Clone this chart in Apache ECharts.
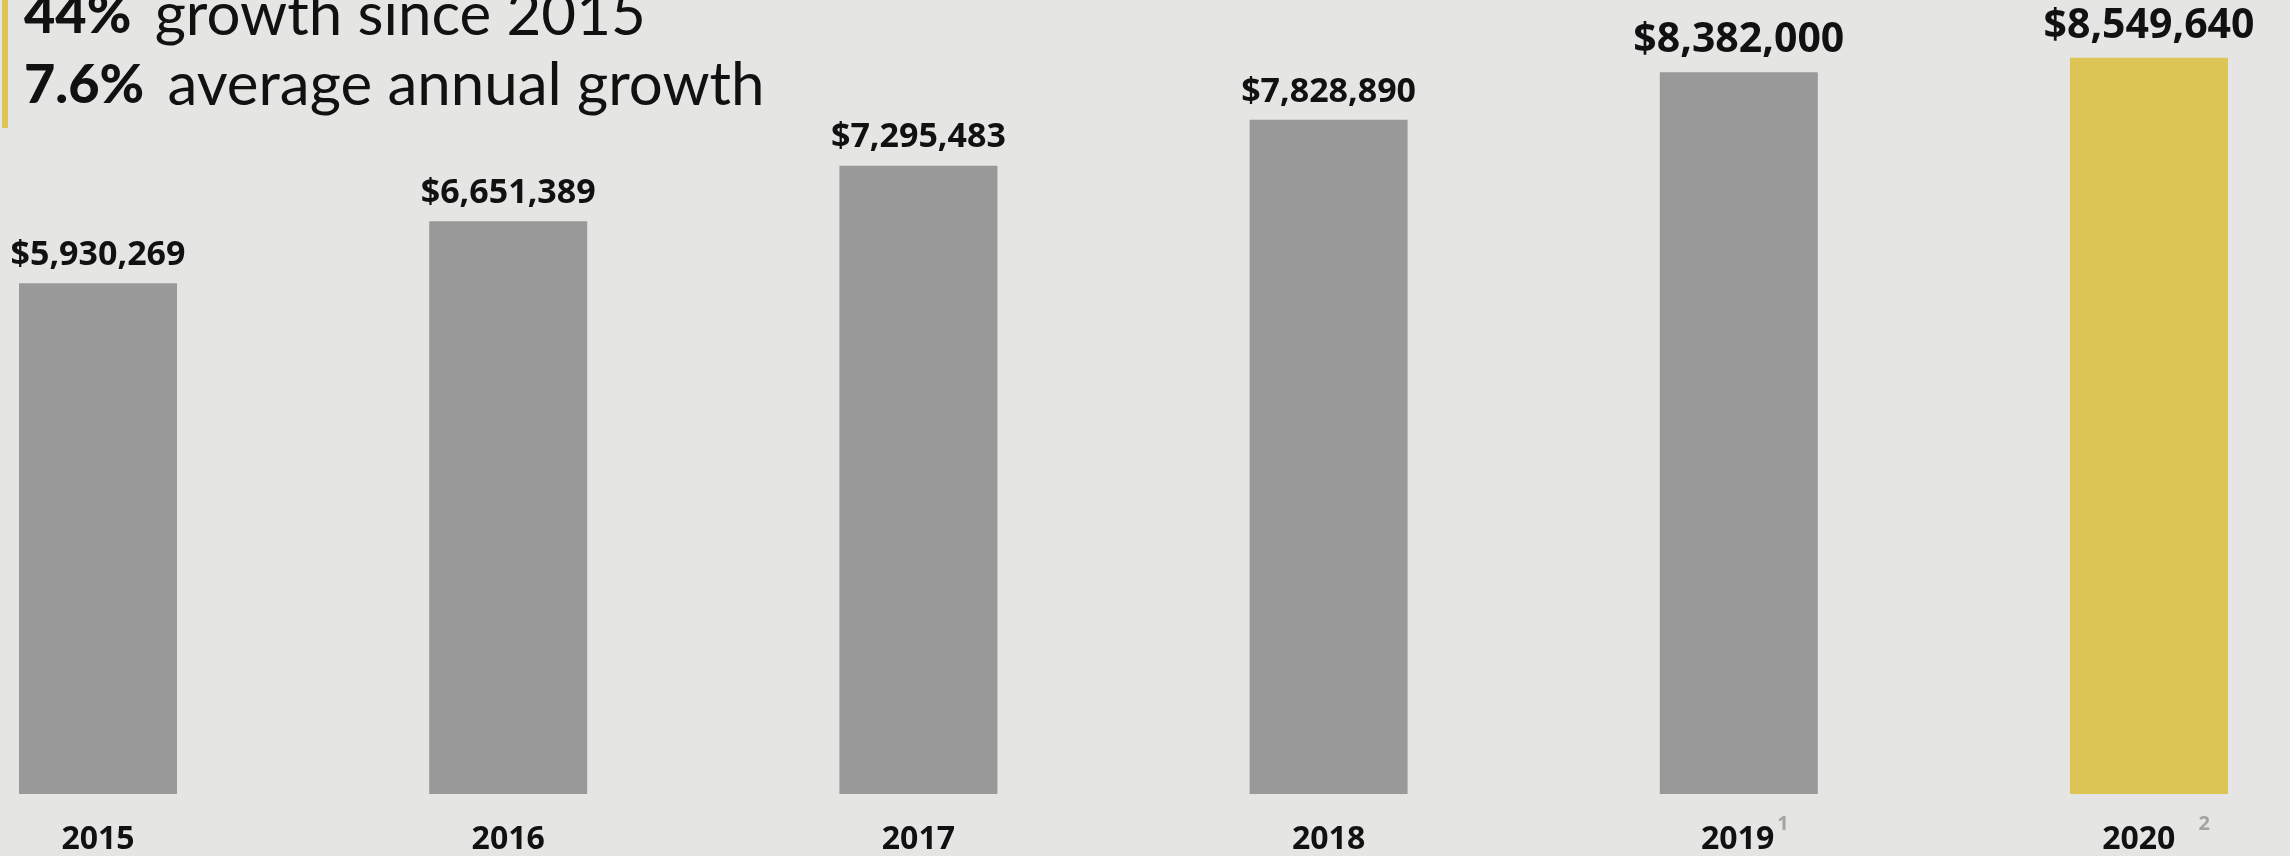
<!DOCTYPE html>
<html>
<head>
<meta charset="utf-8">
<title>Revenue growth 2015–2020</title>
<script src="https://cdn.jsdelivr.net/npm/echarts@6/dist/echarts.min.js"></script>
<style>
  html, body { margin: 0; padding: 0; background: #e5e5e3; }
  #chart { width: 2290px; height: 856px; }
</style>
</head>
<body>
<div id="chart"></div>
<script>
// Annual totals by year
const years = ['2015', '2016', '2017', '2018', '2019', '2020'];
const revenue = [5930269, 6651389, 7295483, 7828890, 8382000, 8549640];
// Footnote markers shown next to the year labels
const footnotes = ['', '', '', '', '1', '2'];
// Headline figures
const headlineGrowth = '44%';
const headlineGrowthText = 'growth since 2015';
const headlineAvg = '7.6%';
const headlineAvgText = 'average annual growth';

const GRAY = '#999999';
const GOLD = '#dcc554';
const LABEL_FONT = '"Open Sans", sans-serif';
const TITLE_FONT = 'Lato, sans-serif';

const lastIdx = revenue.length - 1;
const money = v => '$' + v.toLocaleString('en-US');

const barData = revenue.map((v, i) => ({
  value: v,
  itemStyle: { color: i === lastIdx ? GOLD : GRAY },
  label: { fontSize: i >= 4 ? 41 : 34, lineHeight: i >= 4 ? 41 : 34 }
}));

// year label style; the left padding offsets the footnote mark so the year sits under its bar
const yearStyle = padLeft => ({
  fontFamily: LABEL_FONT, fontWeight: 'bold', fontSize: 32, lineHeight: 70,
  color: '#111', padding: [0, 0, 0, padLeft]
});
const supStyle = gap => ({
  fontFamily: LABEL_FONT, fontWeight: 'bold', fontSize: 20, lineHeight: 20,
  color: '#a3a3a3', verticalAlign: 'top', padding: [9, 0, 0, gap]
});

const headlineRich = {
  b: { fontFamily: TITLE_FONT, fontWeight: 900, fontSize: 54, lineHeight: 70, fill: '#111' },
  n: { fontFamily: TITLE_FONT, fontWeight: 400, fontSize: 60, lineHeight: 70, fill: '#111',
       padding: [0, 0, 0, 8] }
};

const chart = echarts.init(document.getElementById('chart'), null, { renderer: 'canvas' });

chart.setOption({
  backgroundColor: '#e5e5e3',
  animation: false,
  grid: { left: 98, right: 141, top: 19, bottom: 58.5 },
  xAxis: {
    type: 'category',
    data: years,
    boundaryGap: false,
    axisLine: { show: false },
    axisTick: { show: false },
    splitLine: { show: false },
    axisLabel: {
      interval: 0,
      margin: 11,
      color: '#111',
      fontSize: 32,
      fontWeight: 'bold',
      fontFamily: LABEL_FONT,
      formatter: (val, idx) => {
        if (!footnotes[idx]) return `{y|${val}}`;
        return idx === lastIdx
          ? `{yWide|${val}}{supWide|${footnotes[idx]}}`
          : `{yNarrow|${val}}{sup|${footnotes[idx]}}`;
      },
      rich: {
        y: yearStyle(0),
        yNarrow: yearStyle(12),
        yWide: yearStyle(14),
        sup: supStyle(3),
        supWide: supStyle(23)
      }
    }
  },
  yAxis: {
    type: 'value',
    min: 0,
    max: 9000000,
    show: false,
    splitLine: { show: false }
  },
  series: [{
    type: 'bar',
    data: barData,
    barWidth: 158,
    clip: false,
    label: {
      show: true,
      position: 'top',
      distance: 11,
      fontFamily: LABEL_FONT,
      fontWeight: 'bold',
      color: '#111',
      formatter: p => money(p.value)
    }
  }],
  graphic: [
    { type: 'rect', left: 2, top: 0, shape: { width: 6, height: 128 }, style: { fill: GOLD } },
    {
      type: 'text', x: 24, y: 16,
      style: {
        text: `{b|${headlineGrowth}}{n| ${headlineGrowthText}}`,
        verticalAlign: 'middle',
        rich: headlineRich
      }
    },
    {
      type: 'text', x: 24, y: 86,
      style: {
        text: `{b|${headlineAvg}}{n| ${headlineAvgText}}`,
        verticalAlign: 'middle',
        rich: headlineRich
      }
    }
  ]
});
</script>
</body>
</html>
